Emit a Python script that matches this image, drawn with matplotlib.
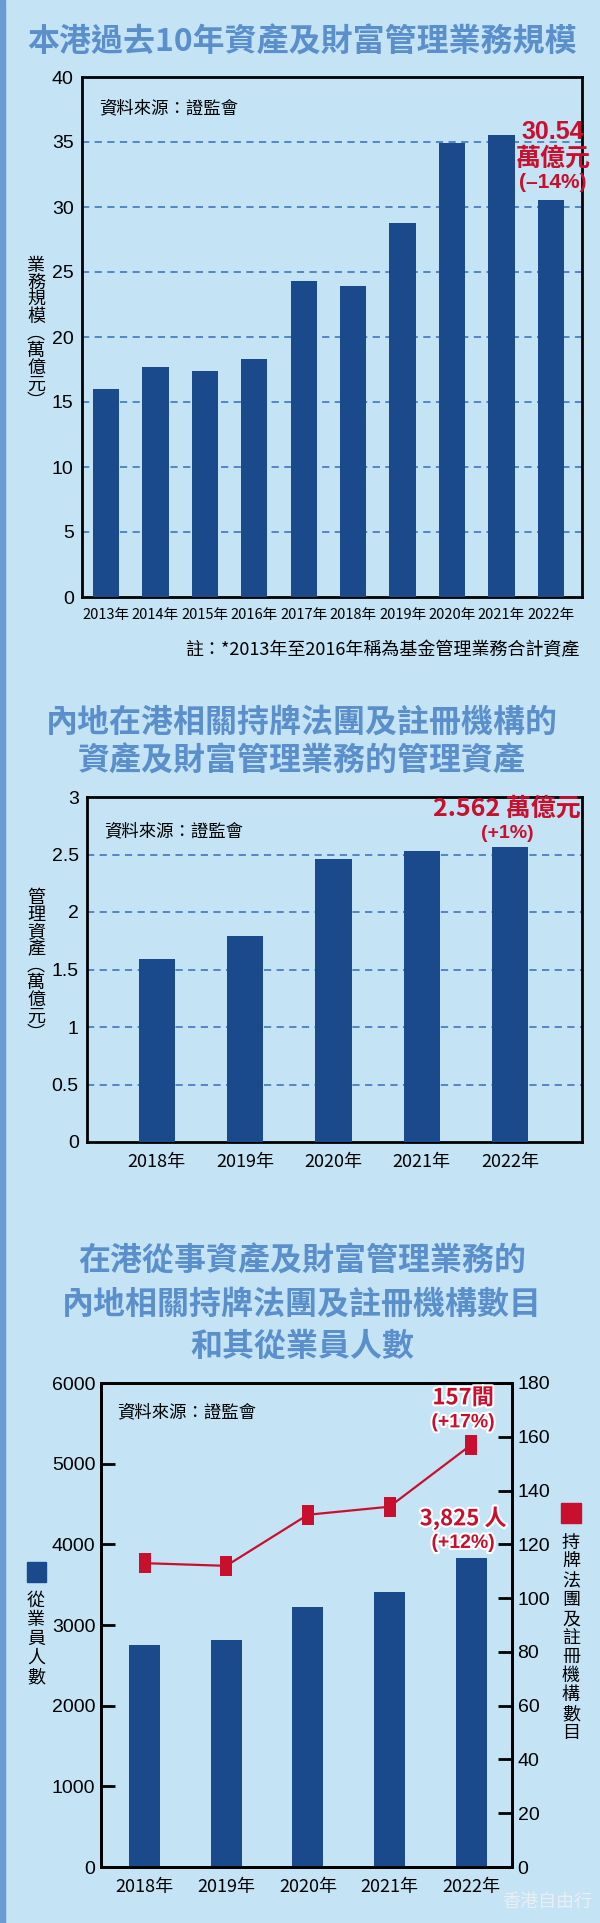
import numpy as np
import matplotlib
matplotlib.use("Agg")
import matplotlib.pyplot as plt
from matplotlib.patches import Rectangle
from matplotlib.path import Path
import matplotlib.patheffects as pe

plt.rcParams['font.family'] = ['Liberation Sans', 'Noto Sans CJK TC', 'DejaVu Sans']

# data
years1 = ['2013年', '2014年', '2015年', '2016年', '2017年',
          '2018年', '2019年', '2020年', '2021年', '2022年']
aum1 = [16.01, 17.68, 17.39, 18.29, 24.27, 23.96, 28.77, 34.93, 35.55, 30.54]

years2 = ['2018年', '2019年', '2020年', '2021年', '2022年']
aum2 = [1.59, 1.79, 2.46, 2.53, 2.562]

years3 = ['2018年', '2019年', '2020年', '2021年', '2022年']
staff3 = [2751, 2813, 3226, 3408, 3825]
firms3 = [113, 112, 131, 134, 157]

W, H = 600, 1923
BG = '#c4e4f6'
BAR = '#1b4a8c'
RED = '#c8102e'
TITLE = '#5b8fcb'
GRID = '#4a7fc0'
CJK = ['Noto Sans CJK TC', 'DejaVu Sans']


def box(l, t, r, b):
    return [l / W, 1 - b / H, (r - l) / W, (b - t) / H]


def tx(x, y, s, **kw):
    fig.text(x / W, 1 - y / H, s, **kw)


def vlabel(x, y0, step, s, size=13):
    for i, ch in enumerate(s):
        tx(x, y0 + i * step, ch, ha='center', va='center', fontsize=size,
           family=CJK)


def note(ax, xy, s, dx, dy, size, **kw):
    # red call-out text placed a few pixels above a bar / point
    ax.annotate(s, xy, xytext=(dx, dy), textcoords='offset pixels',
                ha='center', va='center', color=RED, fontsize=size,
                fontweight='bold', **kw)


def style_frame(ax):
    for sp in ax.spines.values():
        sp.set_linewidth(2)
        sp.set_color('black')
    ax.set_facecolor('none')


fig = plt.figure(figsize=(W / 100, H / 100), dpi=100, facecolor=BG)
fig.patches.append(Rectangle((0, 0), 5 / W, 1, transform=fig.transFigure,
                             color='#6a9bd3', zorder=0))

# ---------- chart 1 ----------
tx(302, 43, '本港過去10年資產及財富管理業務規模', ha='center', va='center',
   fontsize=23, fontweight='bold', color=TITLE, family=CJK)
ax1 = fig.add_axes(box(82, 77, 582, 597))
style_frame(ax1)
x1 = np.arange(len(years1))
ax1.bar(x1, aum1, width=0.53, color=BAR, zorder=3)
ax1.set_xlim(-0.486, 9.63)
ax1.set_ylim(0, 40)
ax1.set_yticks(np.arange(0, 41, 5))
for v in range(5, 40, 5):
    ax1.axhline(v, color=GRID, lw=1.3, ls=(0, (4, 3)), zorder=1)
ax1.set_xticks(x1)
ax1.set_xticklabels(years1, fontsize=10.5, family=CJK)
ax1.tick_params(axis='y', length=0, labelsize=14, pad=6)
ax1.tick_params(axis='x', length=0, pad=8)
ax1.text(0.034, 0.94, '資料來源：證監會', transform=ax1.transAxes, fontsize=12.5,
         family=CJK, va='center')
note(ax1, (9, aum1[-1]), '30.54', 2, 68, 18)
note(ax1, (9, aum1[-1]), '萬億元', 2, 41, 18, family=CJK)
note(ax1, (9, aum1[-1]), '(–14%)', 2, 17, 15)
vlabel(36, 266, 17, '業務規模︵萬億元︶')
tx(580, 650, '註：*2013年至2016年稱為基金管理業務合計資產', ha='right',
   va='center', fontsize=13, family=CJK)

# ---------- chart 2 ----------
tx(302, 723, '內地在港相關持牌法團及註冊機構的', ha='center', va='center',
   fontsize=23, fontweight='bold', color=TITLE, family=CJK)
tx(302, 762, '資產及財富管理業務的管理資產', ha='center', va='center',
   fontsize=23, fontweight='bold', color=TITLE, family=CJK)
ax2 = fig.add_axes(box(87, 797, 582, 1142))
style_frame(ax2)
x2 = np.arange(len(years2))
ax2.bar(x2, aum2, width=0.41, color=BAR, zorder=3)
ax2.set_xlim(-0.79, 4.815)
ax2.set_ylim(0, 3)
ax2.set_yticks(np.arange(0, 3.01, 0.5))
ax2.set_yticklabels(['0', '0.5', '1', '1.5', '2', '2.5', '3'])
for v in np.arange(0.5, 3, 0.5):
    ax2.axhline(v, color=GRID, lw=1.3, ls=(0, (4, 3)), zorder=1)
ax2.set_xticks(x2)
ax2.set_xticklabels(years2, fontsize=13, family=CJK)
ax2.tick_params(axis='y', length=0, labelsize=14, pad=6)
ax2.tick_params(axis='x', length=0, pad=8)
ax2.text(0.035, 0.9, '資料來源：證監會', transform=ax2.transAxes, fontsize=12.5,
         family=CJK, va='center')
note(ax2, (4, aum2[-1]), '2.562 萬億元', -3, 39, 18, family=CJK)
note(ax2, (4, aum2[-1]), '(+1%)', -3, 14, 14)
vlabel(36, 898, 17, '管理資產︵萬億元︶')

# ---------- chart 3 ----------
for y, s in [(1262, '在港從事資產及財富管理業務的'),
             (1305, '內地相關持牌法團及註冊機構數目'),
             (1347, '和其從業員人數')]:
    tx(302, y, s, ha='center', va='center', fontsize=23, fontweight='bold',
       color=TITLE, family=CJK)
ax3 = fig.add_axes(box(101, 1383, 512, 1867))
style_frame(ax3)
x3 = np.arange(len(years3))
ax3.bar(x3, staff3, width=0.38, color=BAR, zorder=3)
ax3.set_xlim(-0.533, 4.5)
ax3.set_ylim(0, 6000)
ax3.set_yticks(np.arange(0, 6001, 1000))
ax3.set_xticks(x3)
ax3.set_xticklabels(years3, fontsize=13, family=CJK)
ax3.tick_params(axis='y', direction='in', length=10, width=2, labelsize=14, pad=4)
ax3.tick_params(axis='x', length=0, pad=8)
ax3.text(0.04, 0.94, '資料來源：證監會', transform=ax3.transAxes, fontsize=12.5,
         family=CJK, va='center')

ax3r = ax3.twinx()
ax3r.set_ylim(0, 180)
ax3r.set_yticks(np.arange(0, 181, 20))
ax3r.tick_params(axis='y', direction='in', length=10, width=2, labelsize=14, pad=4)
for sp in ax3r.spines.values():
    sp.set_linewidth(2)
tall = Path([(-0.65, -1), (0.65, -1), (0.65, 1), (-0.65, 1), (-0.65, -1)],
            [Path.MOVETO, Path.LINETO, Path.LINETO, Path.LINETO, Path.CLOSEPOLY])
ax3r.plot(x3, firms3, color=RED, lw=1.6, marker=tall, markersize=14,
          markeredgewidth=0, zorder=4)

halo = [pe.withStroke(linewidth=3, foreground='white')]
note(ax3r, (4, firms3[-1]), '157間', -8, 47, 16, family=CJK, path_effects=halo)
note(ax3r, (4, firms3[-1]), '(+17%)', -8, 22, 14, path_effects=halo)
note(ax3, (4, staff3[-1]), '3,825 人', -8, 40, 16, family=CJK, path_effects=halo)
note(ax3, (4, staff3[-1]), '(+12%)', -8, 15, 14, path_effects=halo)

fig.patches.append(Rectangle((27 / W, 1 - 1582 / H), 19 / W, 20 / H,
                             transform=fig.transFigure, color=BAR))
vlabel(36, 1601, 19, '從業員人數')
fig.patches.append(Rectangle((561 / W, 1 - 1523 / H), 20 / W, 20 / H,
                             transform=fig.transFigure, color=RED))
vlabel(571, 1543, 19, '持牌法團及註冊機構數目')

tx(547, 1902, '香港自由行', ha='center', va='center', fontsize=13,
   color='#e9eff3', family=CJK)

fig.savefig('out.png', dpi=100, facecolor=BG)
